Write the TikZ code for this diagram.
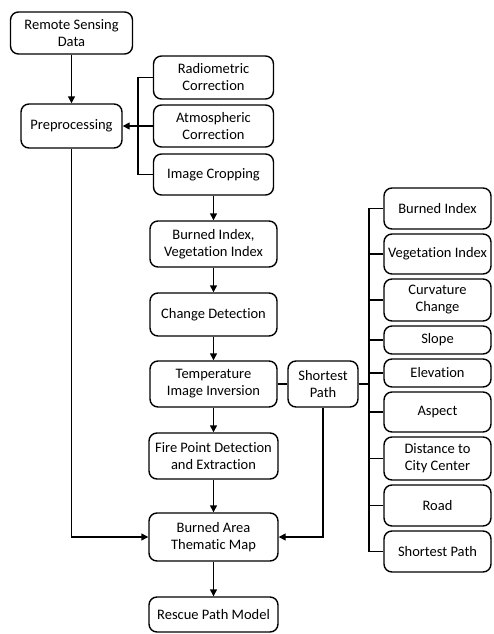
\documentclass[tikz,border=0pt]{standalone}
\usepackage{fontspec}
\setmainfont{Carlito}[Ligatures=NoCommon]
\usetikzlibrary{arrows.meta}
\tikzset{
  box/.style={draw, rounded corners=8pt, align=center, inner sep=0pt, line width=1.4pt,
    font=\fontsize{14.5}{17}\selectfont},
  conn/.style={line width=1.4pt},
  arr/.style={conn, -{Triangle[length=7pt,width=7pt]}},
}
\begin{document}
\begin{tikzpicture}[x=1pt,y=-1pt]
\useasboundingbox (0,0) rectangle (493,634);
% left / middle column
\node[box, minimum width=122pt, minimum height=42pt] (rsd) at (71.5,33) {Remote Sensing\\Data};
\node[box, minimum width=101pt, minimum height=44pt] (pre) at (71.5,126) {Preprocessing};
\node[box, minimum width=120pt, minimum height=43pt] (rad) at (213.5,77.5) {Radiometric\\Correction};
\node[box, minimum width=120pt, minimum height=42pt] (atm) at (213.5,126) {Atmospheric\\Correction};
\node[box, minimum width=120pt, minimum height=41pt] (crop) at (213.5,174.5) {Image Cropping};
\node[box, minimum width=127pt, minimum height=46pt] (bvi) at (213.5,244) {Burned Index,\\Vegetation Index};
\node[box, minimum width=127pt, minimum height=43pt] (cd) at (213.5,314.5) {Change Detection};
\node[box, minimum width=127pt, minimum height=46pt] (tii) at (213.5,384) {Temperature\\Image Inversion};
\node[box, minimum width=70pt, minimum height=46pt] (sp) at (323,384) {Shortest\\Path};
\node[box, minimum width=129pt, minimum height=46pt] (fpd) at (213.5,456) {Fire Point Detection\\and Extraction};
\node[box, minimum width=129pt, minimum height=48pt] (bam) at (213.5,537) {Burned Area\\Thematic Map};
\node[box, minimum width=129pt, minimum height=35pt] (rpm) at (213.5,614.5) {Rescue Path Model};
% right column
\node[box, minimum width=107pt, minimum height=41pt] (r1) at (437.5,208.5) {Burned Index};
\node[box, minimum width=107pt, minimum height=40pt] (r2) at (437.5,254) {Vegetation Index};
\node[box, minimum width=107pt, minimum height=42pt] (r3) at (437.5,300) {Curvature\\Change};
\node[box, minimum width=107pt, minimum height=28pt] (r4) at (437.5,340) {Slope};
\node[box, minimum width=107pt, minimum height=28pt] (r5) at (437.5,373) {Elevation};
\node[box, minimum width=107pt, minimum height=40pt] (r6) at (437.5,412) {Aspect};
\node[box, minimum width=107pt, minimum height=43pt] (r7) at (437.5,458.5) {Distance to\\City Center};
\node[box, minimum width=107pt, minimum height=41pt] (r8) at (437.5,505.5) {Road};
\node[box, minimum width=107pt, minimum height=41pt] (r9) at (437.5,551.5) {Shortest Path};
\coordinate (lb) at (138,0);
\coordinate (bx) at (369,0);
% connectors
\draw[arr] (rsd) -- (pre);
\draw[conn] (rad.west) -- (rad.west -| lb) -- (crop.west -| lb) -- (crop.west);
\draw[arr] (atm.west) -- (pre.east);
\draw[arr] (crop) -- (bvi);
\draw[arr] (bvi) -- (cd);
\draw[arr] (cd) -- (tii);
\draw[arr] (tii) -- (fpd);
\draw[arr] (fpd) -- (bam);
\draw[arr] (bam) -- (rpm);
\draw[conn] (tii.east) -- (sp.west);
\draw[arr] (sp.south) |- (bam.east);
\draw[arr] (pre.south) |- (bam.west);
\draw[conn] (r1.west) -- (r1.west -| bx) -- (r9.west -| bx) -- (r9.west);
\foreach \n in {r2,r3,r4,r5,r6,r7,r8} \draw[conn] (\n.west) -- (\n.west -| bx);
\draw[conn] (sp.east) -- (sp.east -| bx);
\end{tikzpicture}
\end{document}
